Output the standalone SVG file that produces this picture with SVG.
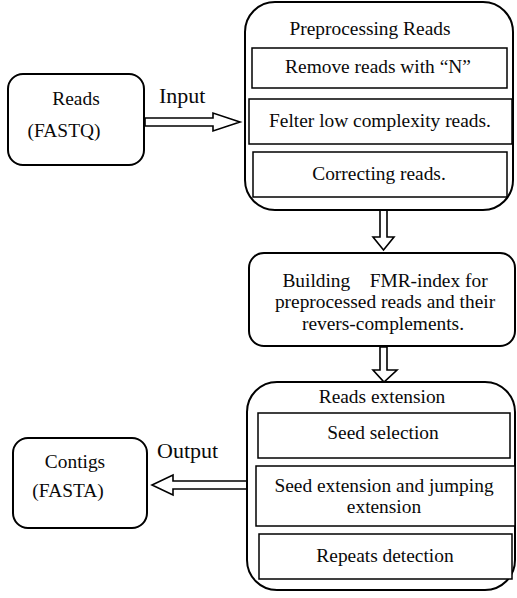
<svg xmlns="http://www.w3.org/2000/svg" width="517" height="598" viewBox="0 0 517 598">
<style>
.bg{fill:#fff}
.rbox{fill:#fff;stroke:#000;stroke-width:2}
.ibox{fill:#fff;stroke:#000;stroke-width:1.5}
.arr{fill:#fff;stroke:#000;stroke-width:1.6;stroke-linejoin:miter}
text{font-family:"Liberation Serif","Times New Roman",serif;font-size:19.4px;fill:#0a0a0a;text-anchor:middle}
.lbl{font-size:22px;text-anchor:start}
</style>
<rect class="bg" x="0" y="0" width="517" height="598"/>
<g id="connectors">
<polygon class="arr" points="145,118 213,118 213,113 240,122 213,131 213,126 145,126"/>
<polygon class="arr" points="380,210 387,210 387,237 394,237 383.5,250 373,237 380,237"/>
<polygon class="arr" points="380,347 387,347 387,370 397,370 384,382 373,370 380,370"/>
<polygon class="arr" points="247,481 173,481 173,475 152,485 173,495 173,489 247,489"/>
<text class="lbl" x="159" y="103">Input</text>
<text class="lbl" x="157" y="458">Output</text>
</g>
<g id="reads">
<rect class="rbox" x="8" y="74" width="136" height="91" rx="15"/>
<text x="76" y="105">Reads</text>
<text x="64" y="137">(FASTQ)</text>
</g>
<g id="preprocessing">
<rect class="rbox" x="245" y="2" width="268" height="208" rx="30"/>
<text x="370" y="35">Preprocessing Reads</text>
<g id="remove-n">
<rect class="ibox" x="252" y="48" width="255" height="40"/>
<text x="378" y="73">Remove reads with “N”</text>
</g>
<g id="filter">
<rect class="ibox" x="249" y="99" width="263" height="45"/>
<text x="380" y="127">Felter low complexity reads.</text>
</g>
<g id="correcting">
<rect class="ibox" x="253" y="152" width="254" height="45"/>
<text x="379" y="180">Correcting reads.</text>
</g>
</g>
<g id="building">
<rect class="rbox" x="249" y="253" width="266" height="93" rx="15"/>
<text x="385" y="287" xml:space="preserve">Building    FMR-index for</text>
<text x="385" y="308">preprocessed reads and their</text>
<text x="383" y="330">revers-complements.</text>
</g>
<g id="extension">
<rect class="rbox" x="247" y="382" width="268" height="208" rx="30"/>
<text x="382" y="403">Reads extension</text>
<g id="seed-selection">
<rect class="ibox" x="258" y="413" width="252" height="45"/>
<text x="383" y="439">Seed selection</text>
</g>
<g id="seed-extension">
<rect class="ibox" x="256" y="466" width="259" height="60"/>
<text x="384" y="492">Seed extension and jumping</text>
<text x="384" y="513">extension</text>
</g>
<g id="repeats">
<rect class="ibox" x="259" y="534" width="253" height="45"/>
<text x="385" y="562">Repeats detection</text>
</g>
</g>
<g id="contigs">
<rect class="rbox" x="13" y="438" width="134" height="90" rx="15"/>
<text x="75" y="468">Contigs</text>
<text x="68" y="497">(FASTA)</text>
</g>
</svg>
